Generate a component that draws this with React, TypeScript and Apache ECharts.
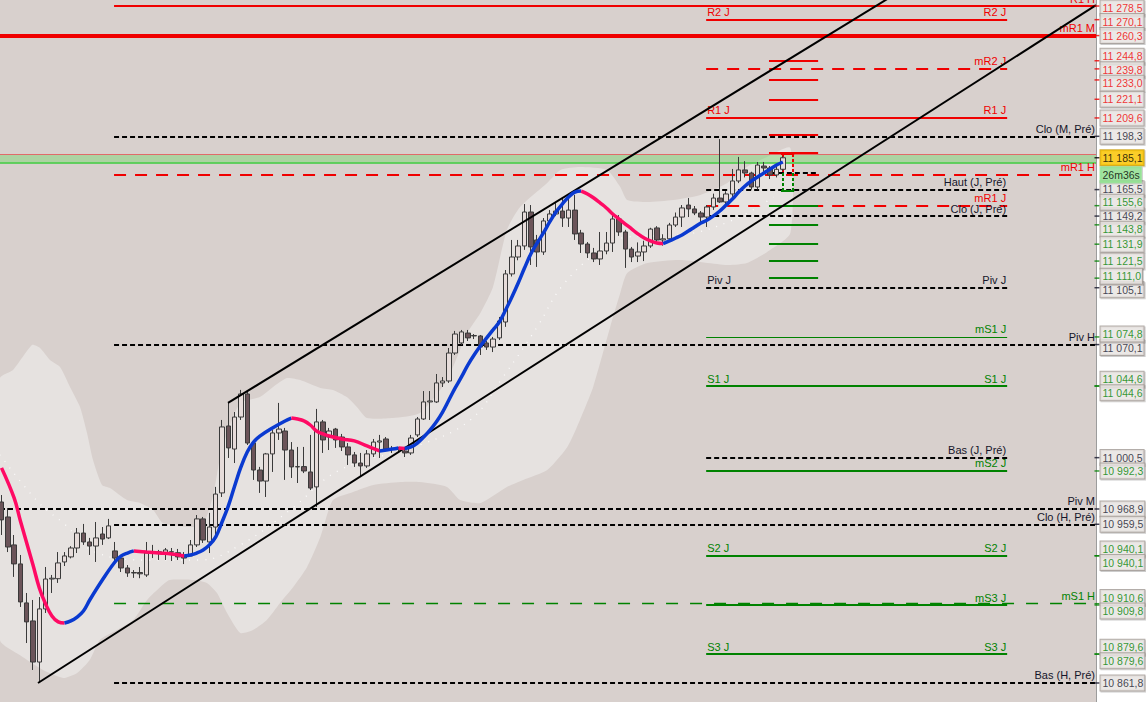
import React, { useEffect, useRef } from "react";
import * as echarts from "echarts";

// bougies : [ouverture, clôture, plus bas, plus haut]
const candles: number[][] = [
  [10973.2, 10962.2, 10952.9, 10977.5], [10964.0, 10945.5, 10942.4, 10969.5], [10946.8, 10935.1, 10927.1, 10952.9],
  [10935.1, 10911.7, 10908.6, 10940.6], [10911.1, 10899.4, 10886.4, 10917.2], [10900.0, 10874.7, 10869.8, 10912.9],
  [10874.7, 10907.4, 10861.8, 10914.7], [10907.4, 10925.8, 10904.9, 10933.2], [10925.8, 10926.3, 10917.2, 10928.3],
  [10926.0, 10935.7, 10923.4, 10942.4], [10936.3, 10940.0, 10933.8, 10942.4], [10939.4, 10944.9, 10938.5, 10946.0],
  [10944.9, 10954.1, 10941.8, 10957.2], [10954.1, 10948.6, 10946.8, 10959.7], [10948.6, 10946.1, 10940.6, 10951.1],
  [10946.1, 10951.1, 10936.3, 10960.9], [10953.5, 10950.4, 10946.8, 10957.8], [10951.1, 10958.5, 10950.4, 10962.8],
  [10943.1, 10938.7, 10936.3, 10948.6], [10938.7, 10932.6, 10930.1, 10940.6], [10932.6, 10929.5, 10927.1, 10934.4],
  [10929.5, 10929.8, 10926.5, 10931.3], [10929.8, 10929.0, 10926.3, 10933.2], [10928.3, 10941.8, 10927.1, 10948.6],
  [10941.8, 10942.0, 10938.7, 10946.8], [10941.6, 10942.6, 10937.5, 10943.7], [10942.0, 10943.7, 10937.5, 10944.9],
  [10942.4, 10942.6, 10936.9, 10944.9], [10942.0, 10939.4, 10937.5, 10944.3], [10940.0, 10938.7, 10935.0, 10942.4],
  [10940.0, 10946.8, 10940.0, 10949.8], [10946.8, 10962.8, 10945.5, 10965.2], [10962.8, 10949.8, 10948.0, 10964.0],
  [10948.6, 10957.8, 10941.8, 10966.5], [10957.8, 10978.1, 10950.0, 10982.5], [10978.8, 11019.4, 10976.3, 11023.7],
  [11020.0, 11006.5, 11000.3, 11034.2], [11005.8, 11025.5, 10997.2, 11028.6], [11025.5, 11039.7, 11023.7, 11042.2],
  [11039.7, 11009.5, 11008.3, 11040.9], [11009.5, 10992.9, 10986.8, 11010.1], [10992.9, 10986.1, 10978.8, 10994.8],
  [10986.1, 11002.8, 10976.3, 11003.4], [11002.8, 11015.7, 10991.7, 11017.5], [11015.7, 11018.1, 11011.4, 11034.2],
  [11016.9, 11005.2, 10986.8, 11018.8], [11005.2, 10994.8, 10988.0, 11010.1], [10994.8, 10995.0, 10984.9, 11007.1],
  [10995.0, 10992.3, 10991.0, 11007.1], [10991.7, 10981.8, 10980.6, 11014.5], [10982.5, 11022.5, 10970.1, 11030.5],
  [11022.5, 11011.4, 11003.4, 11023.7], [11013.2, 11016.9, 11005.2, 11018.8], [11018.1, 11011.4, 11006.5, 11018.8],
  [11013.2, 11007.1, 11004.6, 11015.1], [11007.1, 11002.2, 10996.0, 11009.5], [11002.2, 10997.2, 10994.8, 11004.0],
  [10997.2, 10995.4, 10988.6, 11003.4], [10995.4, 11002.8, 10994.2, 11005.2], [11002.8, 11010.1, 11000.9, 11012.0],
  [11010.1, 11010.8, 11000.3, 11014.5], [11012.0, 11005.8, 11004.6, 11013.2], [11005.8, 11006.0, 11003.4, 11007.7],
  [11006.0, 11005.6, 11003.4, 11007.1], [11004.6, 11003.4, 11000.9, 11007.1], [11003.4, 11012.6, 11002.2, 11014.5],
  [11014.5, 11024.3, 11013.2, 11025.5], [11024.3, 11034.8, 11023.7, 11041.5], [11034.8, 11035.4, 11023.7, 11041.5],
  [11034.8, 11046.5, 11034.2, 11052.0], [11046.5, 11047.7, 11044.0, 11050.1], [11047.7, 11064.9, 11046.5, 11068.0],
  [11064.9, 11076.6, 11063.7, 11078.5], [11071.1, 11077.9, 11069.9, 11079.1], [11077.2, 11074.2, 11072.3, 11079.1],
  [11075.4, 11075.7, 11073.5, 11076.6], [11075.4, 11068.6, 11063.7, 11076.0], [11071.1, 11068.6, 11066.8, 11072.3],
  [11068.6, 11073.5, 11065.5, 11074.8], [11074.2, 11084.6, 11072.9, 11087.1], [11084.0, 11113.6, 11081.0, 11116.0],
  [11113.6, 11124.0, 11112.0, 11134.5], [11124.0, 11130.8, 11122.0, 11134.5], [11130.8, 11151.7, 11128.4, 11156.6],
  [11151.7, 11130.2, 11119.1, 11156.0], [11134.5, 11127.1, 11117.9, 11137.6], [11127.1, 11146.2, 11125.3, 11148.0],
  [11146.2, 11150.5, 11144.0, 11152.9], [11150.5, 11152.3, 11149.2, 11157.2], [11152.3, 11148.0, 11142.5, 11160.3],
  [11148.0, 11152.9, 11142.5, 11161.6], [11152.9, 11138.2, 11134.5, 11162.2], [11138.8, 11132.0, 11126.5, 11140.7],
  [11132.0, 11126.5, 11123.4, 11133.2], [11126.5, 11122.8, 11120.9, 11129.6], [11122.8, 11127.7, 11119.1, 11139.4],
  [11127.7, 11132.6, 11125.7, 11139.4], [11132.6, 11147.4, 11127.1, 11151.1], [11147.4, 11139.4, 11137.0, 11149.8],
  [11139.4, 11128.9, 11117.3, 11140.7], [11128.9, 11124.0, 11120.9, 11130.2], [11124.6, 11127.1, 11120.9, 11133.0],
  [11127.1, 11130.8, 11121.5, 11134.0], [11130.8, 11141.2, 11129.6, 11142.0], [11141.9, 11134.5, 11133.0, 11143.0],
  [11134.5, 11135.2, 11131.0, 11138.0], [11135.2, 11143.7, 11133.5, 11145.0], [11143.7, 11148.6, 11142.5, 11151.4],
  [11148.6, 11154.2, 11142.5, 11156.0], [11156.0, 11153.6, 11148.6, 11160.3], [11153.6, 11151.1, 11149.8, 11155.4],
  [11151.1, 11148.6, 11145.5, 11152.3], [11148.6, 11154.8, 11142.5, 11156.0], [11154.8, 11160.3, 11153.0, 11163.0],
  [11160.3, 11157.9, 11157.3, 11196.6], [11157.9, 11162.8, 11155.0, 11164.5], [11162.8, 11170.8, 11161.0, 11178.2],
  [11170.8, 11177.6, 11169.5, 11185.6], [11177.6, 11175.7, 11173.0, 11183.0], [11175.7, 11167.1, 11165.5, 11176.5],
  [11167.1, 11180.6, 11165.5, 11182.5], [11180.0, 11178.8, 11176.5, 11182.5], [11178.8, 11174.5, 11172.0, 11180.0],
  [11174.5, 11178.0, 11173.0, 11180.0], [11178.0, 11185.1, 11177.0, 11186.0],
];

// moyenne mobile : [indice de bougie, valeur]
const maPoints: number[][] = [
  [0, 10994.2], [2, 10975.7], [3, 10961.5], [5, 10934.4], [6, 10920.3], [7, 10910.4], [8, 10903.1], [9, 10899.4], [10, 10898.7],
  [11, 10900.0], [12, 10902.4], [13, 10906.1], [14, 10912.9], [16, 10925.2], [18, 10936.3], [19, 10940.0], [20, 10941.8], [21, 10943.1],
  [23, 10942.4], [25, 10941.8], [27, 10941.2], [29, 10940.0],
  [30, 10940.6], [31, 10941.8], [32, 10943.7], [33, 10946.8], [34, 10951.7], [35, 10960.9], [36, 10970.8], [37, 10983.1], [38, 10994.8],
  [39, 11004.0], [40, 11010.1], [41, 11013.8], [43, 11018.8], [45, 11023.1], [46, 11024.9],
  [47, 11024.3], [48, 11023.1], [49, 11020.6], [50, 11016.9], [51, 11015.1], [52, 11013.8], [54, 11012.0], [56, 11010.8], [58, 11007.7], [60, 11004.6],
  [62, 11005.8], [63, 11006.5], [64, 11006.1],
  [65, 11007.1], [66, 11009.5], [67, 11013.2], [68, 11017.5], [69, 11022.5], [70, 11028.6], [71, 11036.0], [72, 11043.4], [73, 11050.2],
  [74, 11057.5], [75, 11063.7], [76, 11069.2], [77, 11074.2], [78, 11079.1], [79, 11084.0], [80, 11091.4], [81, 11099.4], [82, 11108.0],
  [83, 11117.2], [84, 11125.9], [85, 11132.6], [86, 11138.8], [87, 11145.6], [88, 11151.7], [89, 11156.6], [90, 11160.9], [91, 11164.0], [92, 11164.6],
  [93, 11162.8], [94, 11160.3], [95, 11157.3], [96, 11154.2], [97, 11150.5], [98, 11147.4], [99, 11144.3], [100, 11141.3], [101, 11138.2],
  [102, 11135.7], [103, 11133.9], [104, 11132.6], [105, 11132.3],
  [106, 11133.9], [107, 11135.7], [108, 11137.6], [109, 11140.0], [110, 11142.5], [111, 11144.9], [112, 11146.8], [113, 11149.3], [114, 11152.3],
  [115, 11156.0], [116, 11159.7], [117, 11164.0], [118, 11167.7], [119, 11170.8], [120, 11173.3], [121, 11175.7], [122, 11178.2], [123, 11180.6], [124, 11182.5],
];

// enveloppe (bord haut et bord bas) : [indice, valeur]
const bandUpper: number[][] = [
  [-0.24, 11049.5], [1.83, 11054.5], [4.84, 11069.9], [6.11, 11068.0], [7.7, 11060.6], [9.29, 11056.3], [10.87, 11044.0], [12.46, 11031.7],
  [13.57, 11015.7], [14.52, 10999.1], [15.95, 10983.7], [17.22, 10981.8], [19.92, 10974.4], [21.98, 10972.6], [24.05, 10968.3], [25.63, 10960.3],
  [30.4, 10957.8], [32.3, 10962.2], [33.6, 10977.5], [34.7, 11000.9], [35.8, 11015.7], [37.9, 11034.2], [41.0, 11037.8], [43.1, 11044.0],
  [45.3, 11049.5], [47.4, 11048.3], [50.6, 11043.4], [52.6, 11042.2], [54.8, 11037.8], [56.4, 11031.7], [58.0, 11024.9], [62.1, 11024.9],
  [66.4, 11028.0], [70.7, 11048.3], [73.9, 11077.2], [76.0, 11089.6], [78.0, 11105.6], [80.2, 11140.6], [82.3, 11154.8], [86.6, 11169.6],
  [88.7, 11177.6], [91.8, 11179.4], [96.1, 11177.6], [98.2, 11167.1], [99.3, 11159.1], [102.5, 11157.9], [106.6, 11159.1], [110.9, 11162.2],
  [115.2, 11169.6], [118.3, 11179.4], [121.5, 11185.6], [125.2, 11191.1],
];
const bandLower: number[][] = [
  [-0.24, 10888.3], [2.9, 10879.0], [6.6, 10869.8], [9.8, 10864.9], [12.0, 10868.0], [14.0, 10876.0], [15.6, 10888.3], [18.3, 10894.4],
  [20.9, 10900.6], [23.1, 10912.9], [25.2, 10920.9], [26.7, 10925.2], [30.4, 10925.2], [32.6, 10923.4], [34.2, 10917.2], [35.8, 10904.9],
  [37.9, 10892.6], [39.9, 10894.4], [42.1, 10900.6], [44.2, 10911.1], [46.3, 10920.9], [48.5, 10933.2], [50.6, 10951.7], [52.6, 10974.4],
  [55.8, 10979.4], [59.0, 10983.7], [63.3, 10985.5], [66.4, 10985.5], [70.7, 10982.5], [72.8, 10974.4], [76.0, 10972.6], [80.2, 10982.5],
  [82.8, 10986.8], [86.6, 10992.9], [89.8, 11007.1], [91.8, 11023.7], [93.9, 11044.0], [96.6, 11080.9], [98.2, 11101.9], [99.3, 11114.2],
  [102.5, 11120.3], [107.7, 11122.2], [115.2, 11119.1], [118.3, 11120.3], [121.5, 11127.1], [125.2, 11138.8],
];

// ligne pointillée blanche
const dotted: number[][] = [
  [-0.24, 11002.2], [5.8, 10973.2], [9.8, 10960.3], [15.2, 10941.8], [23.6, 10937.5], [31.5, 10937.5], [37.9, 10946.8], [45.8, 10968.3],
  [53.7, 10992.9], [66.4, 11008.3], [74.4, 11023.7], [79.6, 11050.2], [85.0, 11080.9], [89.1, 11106.8], [95.0, 11128.3], [99.3, 11136.3],
  [107.7, 11137.6], [116.1, 11146.8], [122.5, 11160.9],
];

// canal de tendance
const channelUpper: number[][] = [[35.95, 11034.2], [150, 11305.2]];
const channelLower: number[][] = [[5.79, 10861.8], [173.7, 11279.0]];

// niveaux journaliers
const dayNames = ["R2 J", "mR2 J", "R1 J", "Haut (J, Pré)", "mR1 J", "Clo (J, Pré)", "Piv J", "mS1 J", "S1 J", "Bas (J, Pré)", "mS2 J", "S2 J", "mS3 J", "S3 J"];
const dayValues = [11270.1, 11239.8, 11209.6, 11165.5, 11155.6, 11149.2, 11105.1, 11074.8, 11044.6, 11000.5, 10992.3, 10940.1, 10909.8, 10879.6];
// niveaux hebdo / mensuels
const longNames = ["R1 H", "mR1 M", "Clo (M, Pré)", "mR1 H", "Piv H", "Piv M", "Clo (H, Pré)", "mS1 H", "Bas (H, Pré)"];
const longValues = [11278.5, 11260.3, 11198.3, 11174.5, 11070.1, 10968.9, 10959.5, 10910.6, 10861.8];

// échelle de projection
const ladderRed = [11244.8, 11233.0, 11221.1, 11209.6, 11199.5, 11188.0];
const ladderGreen = [11155.6, 11143.8, 11131.9, 11121.5, 11111.0];
const projRed = [11187.4, 11176.3];
const projGreen = [11175.7, 11164.6];
const projClose = 11175.9;

// zone verte
const zone = [11182.1, 11187.4];

// étiquettes de l'axe des prix
const redTags = [11278.5, 11270.1, 11260.3, 11244.8, 11239.8, 11233.0, 11221.1, 11209.6];
const blackTags = [11198.3, 11165.5, 11149.2, 11105.1, 11070.1, 11000.5, 10968.9, 10959.5, 10861.8];
const greenTags = [11155.6, 11143.8, 11131.9, 11121.5, 11111.0, 11074.8, 11044.6, 11044.6, 10992.3, 10940.1, 10940.1, 10910.6, 10909.8, 10879.6, 10879.6];
const timer = "26m36s";

const X_MIN = -0.24;
const X_MAX = 173.7;
const Y_MIN = 10850.1;
const Y_MAX = 11282.2;
const DAY_FROM = 111.83;
const DAY_TO = 159.6;
const WIDE_FROM = 17.86;
const LADDER_FROM = 121.8;
const LADDER_TO = 129.6;
const PROJ_A = 124.0;
const PROJ_B = 125.5;
const TAG_GAP = 13.5;
const TIMER_DROP = 17;

const FONT = '"Liberation Sans", Arial, sans-serif';
const RED = "#f00000";
const GREEN = "#008200";
const DARK = "#15152a";

const fmt = (v: number) => {
  const [a, b] = v.toFixed(1).split(".");
  return a.replace(/\B(?=(\d{3})+(?!\d))/g, " ") + "," + b;
};

const BOTH_SIDES = ["R2 J", "R1 J", "Piv J", "S1 J", "S2 J", "S3 J"];

function levelStyle(name: string) {
  const isRed = /^m?R/.test(name);
  const isGreen = /^m?S/.test(name);
  let type: any = "solid";
  let width = 2;
  if (!isRed && !isGreen) type = [5, 3];
  if (name === "mR2 J" || name === "mR1 J" || name === "mR1 H") type = [12, 9];
  if (name === "mS1 H") { type = [12, 12]; width = 1.4; }
  if (name === "mS1 J") width = 1;
  if (name === "mR1 M") width = 4;
  return {
    line: { color: isRed ? RED : isGreen ? GREEN : "#000000", type, width },
    text: isRed ? RED : isGreen ? GREEN : DARK,
  };
}

// écarte les étiquettes qui se chevauchent (positions en pixels)
function spread(ys: number[], gap: number, lo: number, hi: number): number[] {
  const order = ys.map((_, i) => i).sort((a, b) => ys[a] - ys[b]);
  let groups = order.map((i) => ({ ids: [i], sum: ys[i] }));
  const startOf = (g: { ids: number[]; sum: number }) => {
    const n = g.ids.length;
    const s = g.sum / n - ((n - 1) * gap) / 2;
    return Math.max(lo, Math.min(s, hi - (n - 1) * gap));
  };
  let merged = true;
  while (merged) {
    merged = false;
    for (let k = 1; k < groups.length; k++) {
      const a = groups[k - 1];
      const b = groups[k];
      if (startOf(a) + a.ids.length * gap > startOf(b) + 0.01) {
        groups.splice(k - 1, 2, { ids: a.ids.concat(b.ids), sum: a.sum + b.sum });
        merged = true;
        break;
      }
    }
  }
  const out: number[] = new Array(ys.length).fill(0);
  groups.forEach((g) => {
    const s = startOf(g);
    g.ids.forEach((id, j) => (out[id] = s + j * gap));
  });
  return out;
}

type Tag = { value: number; text: string; color: string; bg?: string; border?: string; drop?: number };

function buildTags(): Tag[] {
  const last = candles[candles.length - 1][1];
  return [
    ...redTags.map((v) => ({ value: v, text: fmt(v), color: RED })),
    ...blackTags.map((v) => ({ value: v, text: fmt(v), color: DARK })),
    ...greenTags.map((v) => ({ value: v, text: fmt(v), color: GREEN })),
    { value: last, text: fmt(last), color: "#000000", bg: "#ffc800", border: "#c89a00" },
    { value: last, text: timer, color: "#000000", bg: "#92e492", border: "#92e492", drop: TIMER_DROP },
  ];
}

function buildOption(tags: Tag[], offsets: number[] | null) {
  const lines: any[] = [];
  const addLevel = (name: string, value: number, from: number, to: number) => {
    const st = levelStyle(name);
    const lbl = (position: string) => ({
      show: true, position, formatter: name, color: st.text, fontSize: 11, fontFamily: FONT, distance: [1, 2],
    });
    lines.push([{ coord: [from, value], lineStyle: st.line, label: lbl("insideEndTop") }, { coord: [to, value] }]);
    if (BOTH_SIDES.includes(name)) {
      lines.push([
        { coord: [from, value], lineStyle: { color: "rgba(0,0,0,0)", width: 1, type: "solid" }, label: lbl("insideStartTop") },
        { coord: [to, value] },
      ]);
    }
  };
  const seg = (x0: number, y0: number, x1: number, y1: number, lineStyle: any) => {
    lines.push([{ coord: [x0, y0], lineStyle, label: { show: false } }, { coord: [x1, y1] }]);
  };
  dayNames.forEach((n, k) => addLevel(n, dayValues[k], DAY_FROM, DAY_TO));
  longNames.forEach((n, k) => addLevel(n, longValues[k], n === "mR1 M" || n === "Piv M" ? X_MIN : WIDE_FROM, X_MAX));
  ladderRed.forEach((v) => seg(LADDER_FROM, v, LADDER_TO, v, { color: RED, width: 2, type: "solid" }));
  ladderGreen.forEach((v) => seg(LADDER_FROM, v, LADDER_TO, v, { color: GREEN, width: 2, type: "solid" }));
  seg(X_MIN, zone[1], X_MAX, zone[1], { color: "#e06a6a", width: 1, type: "solid" });
  seg(X_MIN, zone[0], X_MAX, zone[0], { color: "#3ccc3c", width: 1.5, type: "solid" });
  // projection de la bougie en cours
  seg(LADDER_FROM + 0.3, projClose, LADDER_TO - 0.3, projClose, { color: "#000", width: 2, type: [5, 3] });
  [PROJ_A, PROJ_B].forEach((x) => {
    seg(x, projRed[0], x, projRed[1], { color: RED, width: 2, type: [3, 2] });
    seg(x, projGreen[0], x, projGreen[1], { color: GREEN, width: 2, type: [3, 2] });
  });
  seg(PROJ_A - 0.3, projRed[0], PROJ_B + 0.3, projRed[0], { color: RED, width: 2, type: "solid" });
  seg(PROJ_A - 0.3, projGreen[1], PROJ_B + 0.3, projGreen[1], { color: GREEN, width: 2, type: "solid" });

  // moyenne mobile découpée en tronçons montants / descendants
  const runs: { up: boolean; pts: number[][] }[] = [];
  for (let k = 1; k < maPoints.length; k++) {
    const up = maPoints[k][1] >= maPoints[k - 1][1];
    const last = runs[runs.length - 1];
    if (last && last.up === up) last.pts.push(maPoints[k]);
    else runs.push({ up, pts: [maPoints[k - 1], maPoints[k]] });
  }

  const tagData = tags.map((t, k) => ({
    value: [0, t.value],
    itemStyle: { color: t.drop ? "rgba(0,0,0,0)" : t.color },
    label: {
      formatter: t.text,
      color: t.color,
      backgroundColor: t.bg || "#ece8e6",
      borderColor: t.border || "#a09894",
      offset: [0, offsets ? offsets[k] : t.drop || 0],
    },
  }));

  return {
    animation: false,
    backgroundColor: "#ffffff",
    grid: [
      { left: 0, top: 0, right: 50, bottom: 0, show: true, backgroundColor: "#d8d0cd", borderWidth: 0 },
      { left: 1096, top: 0, right: 0, bottom: 0 },
    ],
    xAxis: [
      { type: "value", gridIndex: 0, min: X_MIN, max: X_MAX, show: false },
      { type: "value", gridIndex: 1, min: 0, max: 1, show: false },
    ],
    yAxis: [
      {
        type: "value", gridIndex: 0, min: Y_MIN, max: Y_MAX, position: "right",
        axisLine: { show: true, onZero: false, lineStyle: { color: "#9c9c9c" } },
        axisTick: { show: false }, axisLabel: { show: false }, splitLine: { show: false },
      },
      {
        type: "value", gridIndex: 1, min: Y_MIN, max: Y_MAX, position: "right",
        axisLine: { show: true, onZero: false, lineStyle: { color: "#4a80d8" } },
        axisTick: { show: false }, axisLabel: { show: false }, splitLine: { show: false },
      },
    ],
    series: [
      {
        type: "custom",
        z: 1,
        silent: true,
        data: [[0, 11000]],
        renderItem: (_params: any, api: any) => {
          const pts = bandUpper.map((p) => api.coord(p)).concat(bandLower.slice().reverse().map((p) => api.coord(p)));
          return { type: "polygon", shape: { points: pts, smooth: 0.2 }, style: { fill: "#e6e2e0" } };
        },
      },
      {
        type: "line",
        z: 2,
        silent: true,
        data: dotted,
        smooth: 0.4,
        symbol: "none",
        lineStyle: { color: "#ffffff", width: 1.3, type: [1, 7], opacity: 0.9 },
      },
      {
        type: "line",
        z: 2,
        silent: true,
        data: [],
        markArea: {
          silent: true,
          z: 2,
          itemStyle: { color: "rgba(120, 215, 110, 0.45)" },
          data: [[{ coord: [X_MIN, zone[0]] }, { coord: [X_MAX, zone[1]] }]],
        },
        markLine: { silent: true, z: 2, symbol: ["none", "none"], label: { show: false }, data: lines },
      },
      {
        type: "candlestick",
        z: 3,
        silent: true,
        barWidth: 5,
        data: candles.map((c, i) => [i, ...c]),
        itemStyle: {
          color: "#e6dcda", color0: "#6b5459",
          borderColor: "#3a3a3a", borderColor0: "#3a3a3a", borderWidth: 1,
        },
      },
      { type: "line", z: 4, silent: true, data: channelUpper, symbol: "none", lineStyle: { color: "#000", width: 2 } },
      { type: "line", z: 4, silent: true, data: channelLower, symbol: "none", lineStyle: { color: "#000", width: 2 } },
      ...runs.map((r) => ({
        type: "line",
        z: 5,
        silent: true,
        data: r.pts,
        smooth: 0.4,
        symbol: "none",
        lineStyle: { color: r.up ? "#0a3ad0" : "#ff0a64", width: 3.5 },
      })),
      {
        type: "scatter",
        xAxisIndex: 1,
        yAxisIndex: 1,
        z: 10,
        silent: true,
        symbol: "rect",
        symbolSize: [5, 1.5],
        symbolOffset: [1, 0],
        label: {
          show: true, position: "right", distance: 1, fontSize: 10.5, fontFamily: FONT,
          borderWidth: 1, padding: [2, 1, 2, 2],
          shadowColor: "rgba(0,0,0,0.25)", shadowOffsetX: 1, shadowOffsetY: 1, shadowBlur: 0,
        },
        data: tagData,
      },
    ],
  };
}

export default function App() {
  const ref = useRef<HTMLDivElement | null>(null);
  useEffect(() => {
    const chart = echarts.init(ref.current as HTMLDivElement, undefined, { renderer: "svg" });
    const tags = buildTags();
    chart.setOption(buildOption(tags, null) as any);
    // positions des étiquettes via l'échelle de l'axe, puis écartement
    const base = tags.map((t) => (chart.convertToPixel({ yAxisIndex: 1 }, t.value) as number) + (t.drop || 0));
    const placed = spread(base, TAG_GAP, 8, 694);
    const offsets = placed.map((p, k) => p - base[k] + (tags[k].drop || 0));
    chart.setOption(buildOption(tags, offsets) as any, true);
    return () => chart.dispose();
  }, []);
  return (
    <div
      ref={ref}
      style={{ position: "fixed", left: 0, top: 0, width: 1146, height: 702, background: "#ffffff" }}
    />
  );
}
